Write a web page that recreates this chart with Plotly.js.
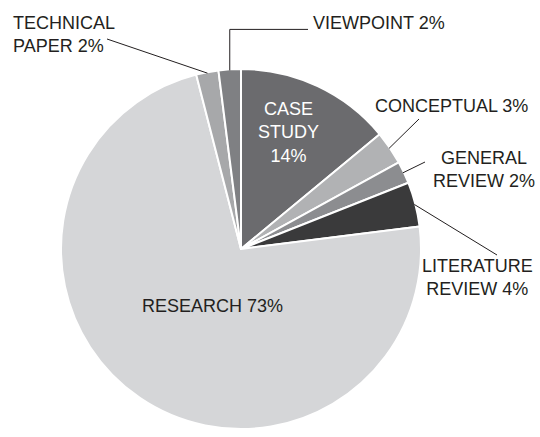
<!DOCTYPE html>
<html>
<head>
<meta charset="utf-8">
<script src="https://cdn.plot.ly/plotly-3.0.1.min.js"></script>
<style>html,body{margin:0;padding:0;background:#fff;}#chart{width:540px;height:437px;}</style>
</head>
<body>
<div id="chart"></div>
<script>
// ---- data ----
const categories = ['CASE STUDY', 'CONCEPTUAL', 'GENERAL REVIEW', 'LITERATURE REVIEW', 'RESEARCH', 'TECHNICAL PAPER', 'VIEWPOINT'];
const shares = [14, 3, 2, 4, 73, 2, 2];
const labelText = ['CASE<br>STUDY', 'CONCEPTUAL', 'GENERAL<br>REVIEW', 'LITERATURE<br>REVIEW', 'RESEARCH', 'TECHNICAL<br>PAPER', 'VIEWPOINT'];
const labelSep = ['<br>', ' ', '<br>'.length ? ' ' : ' ', ' ', ' ', ' ', ' '];
const sliceColors = ['#6b6b6e', '#b1b2b4', '#8c8d90', '#3a3a3b', '#d5d6d8', '#a7a8aa', '#7f8083'];

// ---- layout geometry (pixels) ----
const W = 540, H = 437;
const CX = 241, CY = 249, R = 180;
const px = x => x / W;
const py = y => 1 - y / H;

// label placement: [x, y, xanchor, align, colour]
const labelPos = [
  [288, 132, 'center', 'center', '#ffffff'],
  [373, 105.5, 'left', 'left', '#231f20'],
  [484, 169, 'center', 'center', '#231f20'],
  [477, 277, 'center', 'center', '#231f20'],
  [212, 305.5, 'center', 'center', '#231f20'],
  [11, 35, 'left', 'left', '#231f20'],
  [311, 22.5, 'left', 'left', '#231f20']
];
// leader line start points (label side); null = no leader
const leaderStart = [null, [419, 119], [425, 162], [497, 255], null, [107, 39], [229, 29.4]];

const total = shares.reduce((a, b) => a + b, 0);
function midPoint(i) {
  let before = 0;
  for (let k = 0; k < i; k++) before += shares[k];
  const frac = (before + shares[i] / 2) / total;
  const ang = frac * 2 * Math.PI;
  return [CX + (R - 1) * Math.sin(ang), CY - (R - 1) * Math.cos(ang)];
}

const annotations = categories.map((c, i) => ({
  xref: 'paper', yref: 'paper',
  x: px(labelPos[i][0]), y: py(labelPos[i][1]),
  xanchor: labelPos[i][2], yanchor: 'middle', align: labelPos[i][3],
  showarrow: false,
  text: labelText[i] + (i === 0 ? '<br>' : ' ') + shares[i] + '%',
  font: {family: 'Liberation Sans, Arial, sans-serif', size: 18, color: labelPos[i][4]}
}));

const shapes = [];
leaderStart.forEach((s, i) => {
  if (!s) return;
  const e = midPoint(i);
  if (categories[i] === 'VIEWPOINT') {
    shapes.push({type: 'path', xref: 'paper', yref: 'paper',
      path: `M ${px(308)} ${py(s[1])} L ${px(e[0])} ${py(s[1])} L ${px(e[0])} ${py(e[1])}`,
      line: {color: '#231f20', width: 1}});
  } else {
    shapes.push({type: 'line', xref: 'paper', yref: 'paper',
      x0: px(s[0]), y0: py(s[1]), x1: px(e[0]), y1: py(e[1]),
      line: {color: '#231f20', width: 1}});
  }
});

const trace = {
  type: 'pie',
  labels: categories,
  values: shares,
  sort: false,
  direction: 'clockwise',
  rotation: 0,
  textinfo: 'none',
  hoverinfo: 'label+percent',
  marker: {colors: sliceColors, line: {color: '#ffffff', width: 2}},
  domain: {x: [(CX - R) / W, (CX + R) / W], y: [(H - CY - R) / H, (H - CY + R) / H]}
};

Plotly.newPlot('chart', [trace], {
  width: W, height: H,
  margin: {l: 0, r: 0, t: 0, b: 0},
  showlegend: false,
  paper_bgcolor: '#ffffff',
  annotations: annotations,
  shapes: shapes
}, {displayModeBar: false, staticPlot: true});
</script>
</body>
</html>
